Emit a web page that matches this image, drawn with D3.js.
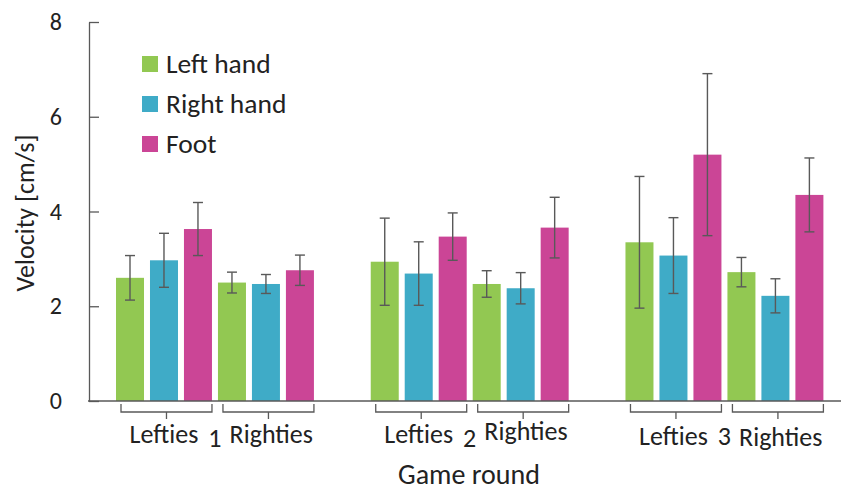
<!DOCTYPE html>
<html>
<head>
<meta charset="utf-8">
<script src="https://cdn.jsdelivr.net/npm/d3@7"></script>
<style>
  html, body { margin: 0; padding: 0; background: #fff; }
  svg text { font-family: Carlito, Calibri, Lato, sans-serif; fill: #222; }
</style>
</head>
<body>
<svg id="chart" width="841" height="492"></svg>
<script>
(function() {
    'use strict';

    // data, order of each array: round 1 Lefties, round 1 Righties, round 2 Lefties, ...
    const rounds = ['1', '2', '3'];
    const groups = ['Lefties', 'Righties'];
    const limbs = ['Left hand', 'Right hand', 'Foot'];
    const leftHand = [2.60, 2.50, 2.94, 2.47, 3.35, 2.72];
    const rightHand = [2.97, 2.47, 2.69, 2.38, 3.07, 2.22];
    const foot = [3.63, 2.76, 3.47, 3.66, 5.20, 4.35];
    const leftHandErr = [0.47, 0.22, 0.92, 0.28, 1.39, 0.31];
    const rightHandErr = [0.57, 0.20, 0.67, 0.33, 0.80, 0.36];
    const footErr = [0.56, 0.32, 0.50, 0.64, 1.71, 0.78];
    const yTicks = [0, 2, 4, 6, 8];

    const colors = ['#92c852', '#3fabc7', '#cb4596'];
    const axisColor = '#595959';
    // small vertical nudges of the group labels, as in the original
    const labelNudge = [0, 0, 0, -3, 2, 3];
    const roundNudge = [0, 0, -2];

    const means = [leftHand, rightHand, foot];
    const errs = [leftHandErr, rightHandErr, footErr];

    const svg = d3.select('#chart');

    const y = d3.scaleLinear().domain([0, 8]).range([401, 22]);

    const x0 = d3.scaleBand().domain(rounds).range([116, 823.4]).paddingInner(0.223).paddingOuter(0);
    const x1 = d3.scaleBand().domain(groups).range([0, x0.bandwidth()]).paddingInner(0.0588).paddingOuter(0);
    const x2 = d3.scaleBand().domain(limbs).range([0, x1.bandwidth()]).paddingInner(0.176).paddingOuter(0);

    // flatten into rows
    const rows = [];
    rounds.forEach((r, ri) => {
        groups.forEach((g, gi) => {
            limbs.forEach((l, li) => {
                const i = ri * groups.length + gi;
                rows.push({ round: r, group: g, limb: l, li: li, value: means[li][i], err: errs[li][i] });
            });
        });
    });
    const xPos = d => x0(d.round) + x1(d.group) + x2(d.limb);

    // bars
    svg.append('g')
        .selectAll('rect')
        .data(rows)
        .enter().append('rect')
        .attr('x', xPos)
        .attr('y', d => y(d.value))
        .attr('width', x2.bandwidth())
        .attr('height', d => y(0) - y(d.value))
        .attr('fill', d => colors[d.li]);

    // error bars
    const eb = svg.append('g')
        .attr('stroke', axisColor)
        .attr('stroke-width', 1.4)
        .selectAll('g')
        .data(rows)
        .enter().append('g')
        .attr('transform', d => `translate(${xPos(d) + x2.bandwidth() / 2},0)`);
    eb.append('line')
        .attr('y1', d => y(d.value + d.err))
        .attr('y2', d => y(d.value - d.err));
    eb.append('line')
        .attr('x1', -5).attr('x2', 5)
        .attr('y1', d => y(d.value + d.err))
        .attr('y2', d => y(d.value + d.err));
    eb.append('line')
        .attr('x1', -5).attr('x2', 5)
        .attr('y1', d => y(d.value - d.err))
        .attr('y2', d => y(d.value - d.err));

    // y axis
    const yAxis = svg.append('g')
        .attr('transform', 'translate(89,0)')
        .call(d3.axisLeft(y).tickValues(yTicks).tickSizeInner(-10).tickSizeOuter(0).tickPadding(27));
    yAxis.selectAll('path, line').attr('stroke', axisColor).attr('stroke-width', 1.3);
    yAxis.selectAll('text')
        .attr('font-size', 24)
        .attr('font-family', 'Carlito, Calibri, Lato, sans-serif')
        .attr('fill', '#222');

    // x axis line
    svg.append('line')
        .attr('x1', 88).attr('x2', 841)
        .attr('y1', y(0)).attr('y2', y(0))
        .attr('stroke', axisColor)
        .attr('stroke-width', 1.3);

    // brackets + group labels
    const cats = [];
    rounds.forEach(r => groups.forEach(g => cats.push({ round: r, group: g })));
    const br = svg.append('g')
        .selectAll('g')
        .data(cats)
        .enter().append('g')
        .attr('transform', d => `translate(${x0(d.round) + x1(d.group)},0)`);
    br.append('path')
        .attr('fill', 'none')
        .attr('stroke', axisColor)
        .attr('stroke-width', 1.3)
        .attr('d', () => {
            const a = 5, b = x1.bandwidth(), m = (a + b) / 2;
            return `M${a},404V412H${b}V404M${m},412V419`;
        });
    br.append('text')
        .attr('x', d => d.group === groups[0] ? x1.bandwidth() / 2 : x1.bandwidth() - 1)
        .attr('y', (d, i) => 443 + labelNudge[i])
        .attr('text-anchor', d => d.group === groups[0] ? 'middle' : 'end')
        .attr('font-size', 26)
        .text(d => d.group);

    svg.append('g')
        .selectAll('text')
        .data(rounds)
        .enter().append('text')
        .attr('x', d => x0(d) + x0.bandwidth() / 2)
        .attr('y', (d, i) => 447 + roundNudge[i])
        .attr('text-anchor', 'middle')
        .attr('font-size', 26)
        .text(d => d);

    // axis titles
    svg.append('text')
        .attr('x', 469)
        .attr('y', 484)
        .attr('text-anchor', 'middle')
        .attr('font-size', 28)
        .text('Game round');

    svg.append('text')
        .attr('transform', 'translate(34,213) rotate(-90)')
        .attr('text-anchor', 'middle')
        .attr('font-size', 26)
        .text('Velocity [cm/s]');

    // legend
    const lg = svg.append('g')
        .selectAll('g')
        .data(limbs)
        .enter().append('g')
        .attr('transform', (d, i) => `translate(142,${64 + i * 40})`);
    lg.append('rect')
        .attr('x', 0).attr('y', -8)
        .attr('width', 16).attr('height', 16)
        .attr('fill', (d, i) => colors[i]);
    lg.append('text')
        .attr('x', 24)
        .attr('y', 9)
        .attr('font-size', 27.5)
        .text(d => d);
})();
</script>
</body>
</html>
